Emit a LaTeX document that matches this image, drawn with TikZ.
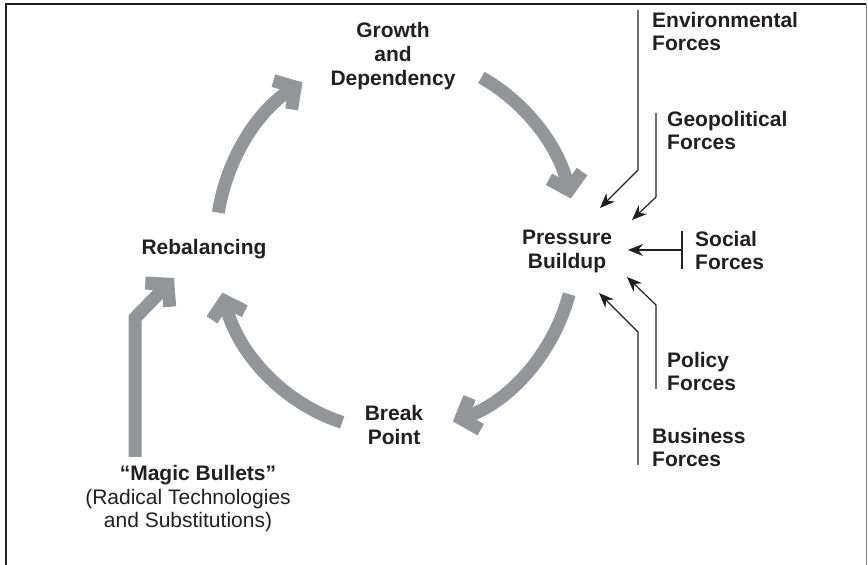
\documentclass[tikz,border=0pt]{standalone}
\usepackage{fontspec}
\setmainfont{Liberation Sans}
\usepackage{xcolor}
\usetikzlibrary{arrows.meta,calc}
\definecolor{loopgray}{RGB}{147,149,152}
\definecolor{ink}{RGB}{35,31,32}

\begin{document}
\begin{tikzpicture}[x=1pt,y=1pt,line join=miter,
  every node/.style={inner sep=0pt,text=ink},
  stage/.style={font=\fontsize{21}{24}\selectfont\bfseries,align=center},
  force/.style={font=\fontsize{21}{23.5}\selectfont\bfseries,align=left,anchor=north west},
  loop/.style={draw=loopgray,line width=13pt,-{Straight Barb[length=15pt,width=34pt]}},
  push/.style={draw=ink,line width=1.2pt,-{Stealth[length=15pt,width=12pt]}}]
  \useasboundingbox (0,0) rectangle (868,565);
  % frame, open at the bottom
  \draw[ink,line width=1.5pt] (6,-10) -- (6,561) -- (866,561);
  \draw[gray,line width=1pt] (866,561) -- (866,-10);

  % the four stages
  \node[stage] (growth) at (393,509) {Growth\\and\\Dependency};
  \node[stage] (pressure) at (567,314) {Pressure\\Buildup};
  \node[stage] (rebal) at (204,316) {Rebalancing};
  \node[stage] (break) at (394,140.5) {Break\\Point};
  \node[align=center,font=\fontsize{21}{23.5}\selectfont] (magic) at (188,66)
    {\kern20pt{\bfseries “Magic Bullets”}\\(Radical Technologies\\and Substitutions)};

  % outside forces
  \node[force] (env) at (652,553.3) {Environmental\\Forces};
  \node[force] (geo) at (667,454.3) {Geopolitical\\Forces};
  \node[force] (social) at (695,334.3) {Social\\Forces};
  \node[force] (policy) at (667,213.3) {Policy\\Forces};
  \node[force] (business) at (652,137.3) {Business\\Forces};

  % the cycle
  \coordinate (hub) at (396,322);
  \foreach \s/\e in {170.7/121.3,61.7/13.7,-15.8/-71.6,-107.4/-164.7}
    \draw[loop] ($(hub)+(\s:180pt and 188pt)$) arc[start angle=\s,end angle=\e,x radius=180pt,y radius=188pt];
  \coordinate (magic-a) at (135,108);\coordinate (magic-b) at (135,247);\coordinate (magic-t) at (174,287);
  \draw[loop] (magic-a) -- (magic-b) -- (magic-t);

  % force arrows into the pressure
  \coordinate (env-a) at (638,555);\coordinate (env-b) at (638,395);\coordinate (env-t) at (600,357);
  \coordinate (geo-a) at (656,452);\coordinate (geo-b) at (656,368);\coordinate (geo-t) at (632,345);
  \coordinate (policy-a) at (656,176);\coordinate (policy-b) at (656,260);\coordinate (policy-t) at (627,288);
  \coordinate (business-a) at (638,100);\coordinate (business-b) at (638,233);\coordinate (business-t) at (599,272);
  \foreach \n in {env,geo,policy,business}
    \draw[push] (\n-a) -- (\n-b) -- (\n-t);
  \coordinate (social-a) at (682,334);\coordinate (social-b) at (682,296);
  \coordinate (social-m) at (682,315);\coordinate (social-t) at (628,315);
  \draw[ink,line width=1.2pt] (social-a) -- (social-b);
  \draw[push] (social-m) -- (social-t);
\end{tikzpicture}
\end{document}
